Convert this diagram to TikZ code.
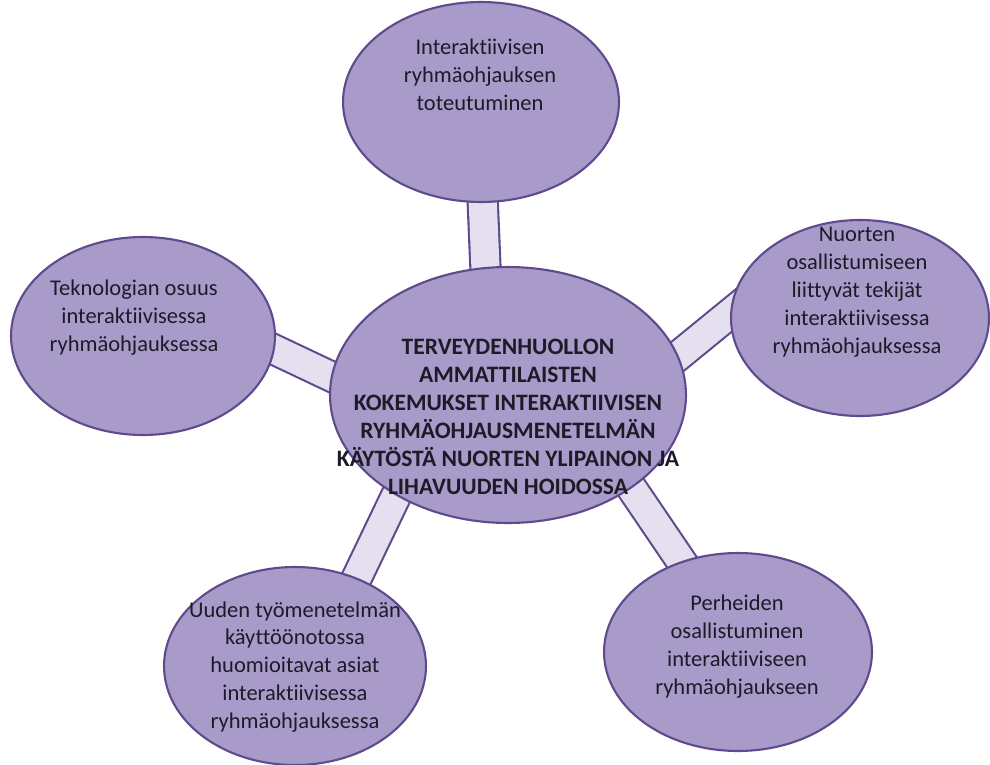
\documentclass[tikz,border=0pt]{standalone}
\usepackage{fontspec}
\setmainfont{Carlito}[Ligatures=NoCommon]
\usetikzlibrary{shapes.geometric}
\usetikzlibrary{backgrounds}
\definecolor{lila}{RGB}{169,155,201}
\definecolor{reuna}{RGB}{94,74,140}
\definecolor{vaalea}{RGB}{229,224,239}
\definecolor{musta}{RGB}{30,26,40}

\begin{document}
\begin{tikzpicture}[x=0.02cm,y=-0.02cm,
pallo/.style={ellipse,draw=reuna,fill=lila,line width=1.2pt,inner sep=0pt},
teksti/.style={align=center,text=musta,font=\fontsize{12.8}{15.9}\selectfont},
tekstiB/.style={teksti,font=\fontsize{13.4}{15.9}\selectfont\bfseries},
puola/.style={draw=reuna,line width=1.2pt,double=vaalea,double distance=16pt,shorten <=-14pt,shorten >=-14pt}
]
\useasboundingbox (0,0) rectangle (990,764);
%--
\node[pallo,minimum width=7.12cm,minimum height=5.12cm](k) at (508,395){};
\node[tekstiB](kt) at (508,417){TERVEYDENHUOLLON\\AMMATTILAISTEN\\KOKEMUKSET INTERAKTIIVISEN\\RYHMÄOHJAUSMENETELMÄN\\KÄYTÖSTÄ NUORTEN YLIPAINON JA\\LIHAVUUDEN HOIDOSSA};
%--
\node[pallo,minimum width=5.52cm,minimum height=4cm](a) at (481,102){};
\node[teksti](at) at (480,75){Interaktiivisen\\ryhmäohjauksen\\toteutuminen};
%--
\node[pallo,minimum width=5.16cm,minimum height=3.92cm](b) at (860,318){};
\node[teksti](bt) at (857,292){Nuorten\\osallistumiseen\\liittyvät tekijät\\interaktiivisessa\\ryhmäohjauksessa};
%--
\node[pallo,minimum width=5.36cm,minimum height=3.96cm](c) at (738,652){};
\node[teksti](ct) at (737,647){Perheiden\\osallistuminen\\interaktiiviseen\\ryhmäohjaukseen};
%--
\node[pallo,minimum width=5.24cm,minimum height=3.96cm](d) at (295,666){};
\node[teksti](dt) at (295,667){Uuden työmenetelmän\\käyttöönotossa\\huomioitavat asiat\\interaktiivisessa\\ryhmäohjauksessa};
%--
\node[pallo,minimum width=5.28cm,minimum height=3.96cm](e) at (143,336){};
\node[teksti](et) at (134,318){Teknologian osuus\\interaktiivisessa\\ryhmäohjauksessa};
%----
\begin{scope}[on background layer]
\draw[puola] (k.100) -- (a.-89.5);
\draw[puola] (k.13) -- (b.178);
\draw[puola] (k.-37) -- (c.122.6);
\draw[puola] (k.-138.8) -- (d.55.7);
\draw[puola] (k.174.1) -- (e.-6.7);
\end{scope}
\end{tikzpicture}
\end{document}
